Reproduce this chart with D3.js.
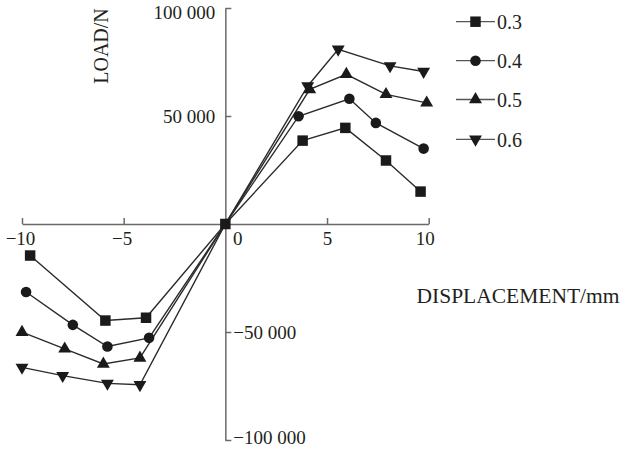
<!DOCTYPE html>
<html><head><meta charset="utf-8">
<script src="https://cdn.jsdelivr.net/npm/d3@7"></script>
<style>
html,body{margin:0;padding:0;background:#fff;}
svg{display:block;font-family:"Liberation Serif","Times New Roman",serif;}
</style></head>
<body><svg id="c" width="622" height="451"></svg>
<script>
// ---- data ----
const seriesNames = ["0.3", "0.4", "0.5", "0.6"];
const s03_x = [-9.6, -5.9, -3.9, 0, 3.8, 5.9, 7.9, 9.6];
const s03_y = [-14600, -44700, -43400, 0, 38600, 44500, 29400, 15000];
const s04_x = [-9.8, -7.5, -5.8, -3.75, 0, 3.6, 6.1, 7.4, 9.75];
const s04_y = [-31500, -46700, -56700, -52700, 0, 49900, 58000, 46800, 34900];
const s05_x = [-10, -7.9, -6, -4.2, 0, 4.15, 5.95, 7.9, 9.9];
const s05_y = [-50100, -57800, -64800, -62000, 0, 62300, 69300, 60000, 56100];
const s06_x = [-10, -8, -5.8, -4.2, 0, 4.05, 5.55, 8.1, 9.75];
const s06_y = [-66400, -70200, -73800, -74400, 0, 63900, 80900, 73200, 70600];
const xTicks = [-10, -5, 0, 5, 10];
const xTickLabels = ["\u221210", "\u22125", "0", "5", "10"];
const yTicks = [-100000, -50000, 50000, 100000];
const yTickLabels = ["\u2212100 000", "\u221250 000", "50 000", "100 000"];
const xTitle = "DISPLACEMENT/mm";
const yTitle = "LOAD/N";

const seriesX = [s03_x, s04_x, s05_x, s06_x];
const seriesY = [s03_y, s04_y, s05_y, s06_y];
const markers = ["square", "circle", "up", "down"];

// ---- chart ----
const svg = d3.select("#c");
const x = d3.scaleLinear().domain([-10, 10]).range([22, 428.7]);
const y = d3.scaleLinear().domain([-100000, 100000]).range([440, 8]);
const textColor = "#231f20";
const axisColor = "#6a6a6a";

function symPath(kind) {
  if (kind === "square") return d3.symbol(d3.symbolSquare, 110)();
  if (kind === "circle") return d3.symbol(d3.symbolCircle, 88)();
  return d3.symbol(d3.symbolTriangle, 72)();
}
function symTransform(kind, px, py) {
  return `translate(${px},${py})` + (kind === "down" ? " rotate(180)" : "");
}

// x axis
const xAxis = d3.axisBottom(x).tickValues(xTicks).tickSize(-6).tickSizeOuter(0).tickPadding(8)
  .tickFormat((d, i) => xTickLabels[i]);
const gx = svg.append("g").attr("transform", `translate(0,${y(0)})`).call(xAxis);
gx.select(".domain").attr("stroke", axisColor).attr("stroke-width", 1.5);
gx.selectAll(".tick line").attr("stroke", axisColor).attr("stroke-width", 1.5);
gx.selectAll(".tick text").attr("fill", textColor).attr("font-size", 19)
  .attr("font-family", "Liberation Serif, Times New Roman, serif")
  .attr("x", d => d === 0 ? 12 : (d === 10 ? -4 : (d < 0 ? -2 : 0)));

// y axis
const yAxis = d3.axisLeft(y).tickValues(yTicks).tickSize(-6).tickSizeOuter(0).tickPadding(10)
  .tickFormat((d, i) => yTickLabels[i]);
const gy = svg.append("g").attr("transform", `translate(${x(0)},0)`).call(yAxis);
gy.select(".domain").attr("stroke", axisColor).attr("stroke-width", 1.5);
gy.selectAll(".tick line").attr("stroke", axisColor).attr("stroke-width", 1.5);
gy.selectAll(".tick text").attr("fill", textColor).attr("font-size", 19)
  .attr("font-family", "Liberation Serif, Times New Roman, serif")
  .attr("text-anchor", d => d < 0 ? "start" : "end")
  .attr("x", d => d < 0 ? 8 : -10)
  .attr("dy", d => d === 100000 ? "0.55em" : (d === -100000 ? "0.2em" : "0.35em"));

// series lines and markers
const line = d3.line().x(d => x(d[0])).y(d => y(d[1]));
seriesNames.forEach((name, si) => {
  const pts = seriesX[si].map((v, i) => [v, seriesY[si][i]]);
  svg.append("path").datum(pts).attr("d", line)
    .attr("fill", "none").attr("stroke", "#2b2b2b").attr("stroke-width", 1.4);
});
seriesNames.forEach((name, si) => {
  const pts = seriesX[si].map((v, i) => [v, seriesY[si][i]]);
  svg.append("g").selectAll("path").data(pts.filter(p => !(p[0] === 0 && p[1] === 0))).join("path")
    .attr("d", symPath(markers[si]))
    .attr("transform", d => symTransform(markers[si], x(d[0]), y(d[1])))
    .attr("fill", "#1a1a1a");
});
// origin marker (shared point)
svg.append("path").attr("d", symPath("square"))
  .attr("transform", symTransform("square", x(0), y(0))).attr("fill", "#1a1a1a");

// legend
const legY = [21.7, 60.7, 99.5, 139.3];
seriesNames.forEach((name, si) => {
  const g = svg.append("g").attr("transform", `translate(0,${legY[si]})`);
  g.append("line").attr("x1", 456).attr("x2", 495).attr("y1", 0).attr("y2", 0)
    .attr("stroke", "#555").attr("stroke-width", 1.3);
  g.append("path").attr("d", symPath(markers[si]))
    .attr("transform", symTransform(markers[si], 475.5, 0)).attr("fill", "#1a1a1a");
  g.append("text").attr("x", 497).attr("y", 0).attr("dy", "0.36em")
    .attr("font-size", 20).attr("fill", textColor).text(name);
});

// titles
svg.append("text").attr("x", 416.5).attr("y", 303).attr("font-size", 20)
  .attr("fill", textColor).attr("textLength", 203).attr("lengthAdjust", "spacingAndGlyphs").text(xTitle);
svg.append("text").attr("transform", "translate(108,46) rotate(-90)").attr("text-anchor", "middle")
  .attr("font-size", 20).attr("fill", textColor).text(yTitle);
</script>
</body></html>
